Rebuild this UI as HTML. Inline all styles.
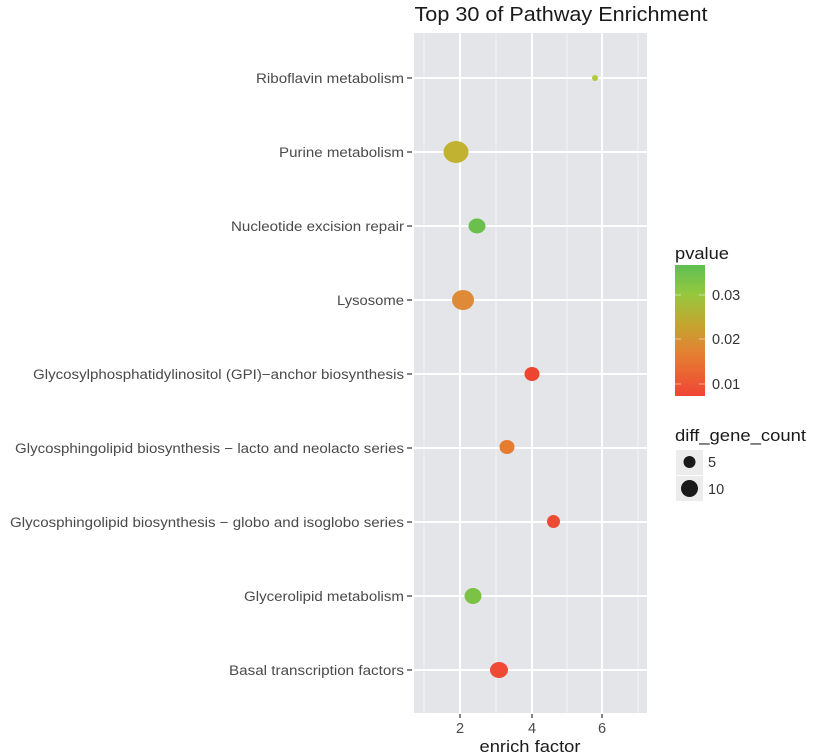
<!DOCTYPE html>
<html><head><meta charset="utf-8"><style>
html,body{margin:0;padding:0;background:#fff;}
svg{display:block;font-family:"Liberation Sans",Arial,sans-serif;}
</style></head><body>
<svg width="813" height="756" viewBox="0 0 813 756" xmlns="http://www.w3.org/2000/svg">
<defs>
<linearGradient id="pv" x1="0" y1="0" x2="0" y2="1">
<stop offset="0" stop-color="#5dbf52"/>
<stop offset="0.22" stop-color="#95c83e"/>
<stop offset="0.45" stop-color="#c3a630"/>
<stop offset="0.68" stop-color="#e57f32"/>
<stop offset="1" stop-color="#ef4534"/>
</linearGradient>
</defs>
<rect width="813" height="756" fill="#fff"/>
<text x="561" y="21" font-size="20" fill="#1a1a1a" text-anchor="middle" textLength="293" lengthAdjust="spacingAndGlyphs">Top 30 of Pathway Enrichment</text>
<!-- panel -->
<rect x="414" y="33" width="233" height="680" fill="#e3e5e8"/>
<g stroke="#f4f5f6" stroke-width="1">
<line x1="424" y1="33" x2="424" y2="713"/>
<line x1="496" y1="33" x2="496" y2="713"/>
<line x1="567" y1="33" x2="567" y2="713"/>
<line x1="638" y1="33" x2="638" y2="713"/>
</g>
<g stroke="#ffffff" stroke-width="2">
<line x1="460" y1="33" x2="460" y2="713"/>
<line x1="532" y1="33" x2="532" y2="713"/>
<line x1="602" y1="33" x2="602" y2="713"/>
<line x1="414" y1="78" x2="647" y2="78"/>
<line x1="414" y1="152" x2="647" y2="152"/>
<line x1="414" y1="226" x2="647" y2="226"/>
<line x1="414" y1="300" x2="647" y2="300"/>
<line x1="414" y1="374" x2="647" y2="374"/>
<line x1="414" y1="448" x2="647" y2="448"/>
<line x1="414" y1="522" x2="647" y2="522"/>
<line x1="414" y1="596" x2="647" y2="596"/>
<line x1="414" y1="670" x2="647" y2="670"/>
</g>
<!-- points -->
<ellipse cx="595" cy="78" rx="3" ry="3" fill="#b3c83c"/>
<ellipse cx="456" cy="152" rx="12.5" ry="11" fill="#c2b232"/>
<ellipse cx="477" cy="226" rx="8.5" ry="7.5" fill="#6bbf4c"/>
<ellipse cx="463" cy="300" rx="11" ry="10" fill="#de8a36"/>
<ellipse cx="532" cy="374" rx="7.5" ry="7" fill="#ee4530"/>
<ellipse cx="507" cy="447" rx="7.5" ry="7" fill="#e67c30"/>
<ellipse cx="553.5" cy="521.5" rx="6.5" ry="6.5" fill="#ee4b35"/>
<ellipse cx="473" cy="596" rx="8.5" ry="8" fill="#7cc245"/>
<ellipse cx="499" cy="670" rx="9" ry="8" fill="#f04a35"/>
<!-- ticks -->
<g stroke="#333" stroke-width="1.2">
<line x1="407" y1="78" x2="412" y2="78"/>
<line x1="407" y1="152" x2="412" y2="152"/>
<line x1="407" y1="226" x2="412" y2="226"/>
<line x1="407" y1="300" x2="412" y2="300"/>
<line x1="407" y1="374" x2="412" y2="374"/>
<line x1="407" y1="448" x2="412" y2="448"/>
<line x1="407" y1="522" x2="412" y2="522"/>
<line x1="407" y1="596" x2="412" y2="596"/>
<line x1="407" y1="670" x2="412" y2="670"/>
<line x1="460" y1="714" x2="460" y2="718"/>
<line x1="532" y1="714" x2="532" y2="718"/>
<line x1="602" y1="714" x2="602" y2="718"/>
</g>
<g font-size="13.5" fill="#4a4a4a" text-anchor="end">
<text x="404" y="83" textLength="148" lengthAdjust="spacingAndGlyphs">Riboflavin metabolism</text>
<text x="404" y="157" textLength="125" lengthAdjust="spacingAndGlyphs">Purine metabolism</text>
<text x="404" y="231" textLength="173" lengthAdjust="spacingAndGlyphs">Nucleotide excision repair</text>
<text x="404" y="305" textLength="67" lengthAdjust="spacingAndGlyphs">Lysosome</text>
<text x="404" y="379" textLength="371" lengthAdjust="spacingAndGlyphs">Glycosylphosphatidylinositol (GPI)−anchor biosynthesis</text>
<text x="404" y="453" textLength="389" lengthAdjust="spacingAndGlyphs">Glycosphingolipid biosynthesis − lacto and neolacto series</text>
<text x="404" y="527" textLength="394" lengthAdjust="spacingAndGlyphs">Glycosphingolipid biosynthesis − globo and isoglobo series</text>
<text x="404" y="601" textLength="160" lengthAdjust="spacingAndGlyphs">Glycerolipid metabolism</text>
<text x="404" y="675" textLength="175" lengthAdjust="spacingAndGlyphs">Basal transcription factors</text>
</g>
<g font-size="14.5" fill="#4a4a4a" text-anchor="middle">
<text x="460" y="733">2</text>
<text x="532" y="733">4</text>
<text x="602" y="733">6</text>
</g>
<text x="530" y="752" font-size="17" fill="#1a1a1a" text-anchor="middle" textLength="101" lengthAdjust="spacingAndGlyphs">enrich factor</text>
<!-- pvalue legend -->
<text x="675" y="259" font-size="17" fill="#1a1a1a" textLength="54" lengthAdjust="spacingAndGlyphs">pvalue</text>
<rect x="675" y="265" width="30" height="131" fill="url(#pv)"/>
<g stroke="#ffffff" stroke-opacity="0.5" stroke-width="1">
<line x1="675" y1="295" x2="681" y2="295"/><line x1="699" y1="295" x2="705" y2="295"/>
<line x1="675" y1="339" x2="681" y2="339"/><line x1="699" y1="339" x2="705" y2="339"/>
<line x1="675" y1="384" x2="681" y2="384"/><line x1="699" y1="384" x2="705" y2="384"/>
</g>
<g font-size="14.5" fill="#333">
<text x="712" y="300">0.03</text>
<text x="712" y="344">0.02</text>
<text x="712" y="389">0.01</text>
</g>
<!-- size legend -->
<text x="675" y="441" font-size="16.5" fill="#1a1a1a" textLength="131" lengthAdjust="spacingAndGlyphs">diff_gene_count</text>
<rect x="676" y="450" width="27" height="25" fill="#ececec"/>
<rect x="676" y="476" width="27" height="25" fill="#ececec"/>
<circle cx="689.5" cy="462" r="6" fill="#1a1a1a"/>
<circle cx="689.5" cy="488.5" r="8.5" fill="#1a1a1a"/>
<g font-size="14.5" fill="#333">
<text x="708" y="467">5</text>
<text x="708" y="494">10</text>
</g>
</svg>
</body></html>
